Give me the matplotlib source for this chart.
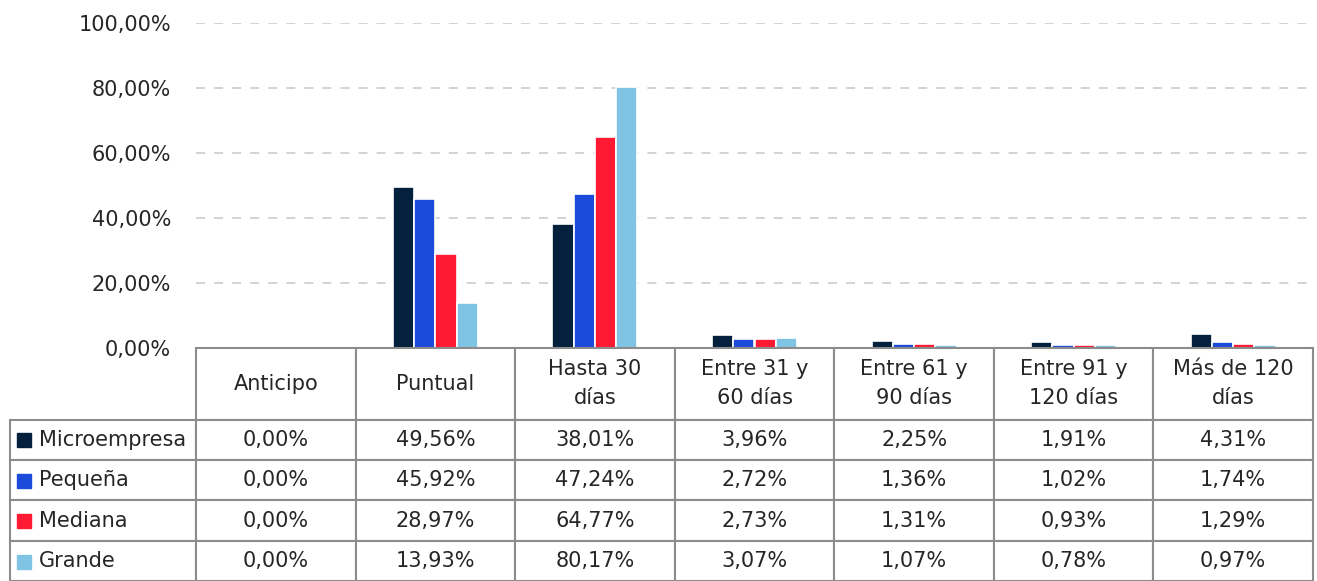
import numpy as np
import matplotlib
matplotlib.use("Agg")
import matplotlib.pyplot as plt
from matplotlib.ticker import FuncFormatter

plt.rcParams['font.family'] = ['DejaVu Sans']

categories = ['Anticipo', 'Puntual', 'Hasta 30\ndías', 'Entre 31 y\n60 días',
              'Entre 61 y\n90 días', 'Entre 91 y\n120 días', 'Más de 120\ndías']
series_names = ['Microempresa', 'Pequeña', 'Mediana', 'Grande']
microempresa = [0.00, 49.56, 38.01, 3.96, 2.25, 1.91, 4.31]
pequena = [0.00, 45.92, 47.24, 2.72, 1.36, 1.02, 1.74]
mediana = [0.00, 28.97, 64.77, 2.73, 1.31, 0.93, 1.29]
grande = [0.00, 13.93, 80.17, 3.07, 1.07, 0.78, 0.97]
colors = ['#03203d', '#1c4bdb', '#ff1a33', '#80c4e3']

series = [microempresa, pequena, mediana, grande]
text_color = '#262626'
line_color = '#8c8c8c'

W, H = 1317, 581
fig = plt.figure(figsize=(W / 100, H / 100), dpi=100)
ax_left, ax_right, ax_top, ax_bottom = 196, 1313, 23, 348
ax = fig.add_axes([ax_left / W, 1 - ax_bottom / H,
                   (ax_right - ax_left) / W, (ax_bottom - ax_top) / H])

x = np.arange(len(categories))
bar_w = 0.133
for i, (vals, c) in enumerate(zip(series, colors)):
    vals = np.array(vals) / 100
    bars = ax.bar(x + (i - 1.5) * bar_w, vals, width=bar_w,
                  color=c, edgecolor='white', linewidth=1.2, zorder=3)
    for b, v in zip(bars, vals):
        if v == 0:
            b.set_visible(False)

ax.set_xlim(-0.5, len(categories) - 0.5)
ax.set_ylim(0, 1.0)
ax.set_yticks(np.arange(0, 1.01, 0.2))
ax.yaxis.set_major_formatter(FuncFormatter(lambda v, p: f"{v * 100:.2f}%".replace('.', ',')))
ax.tick_params(axis='y', length=0, pad=18, labelsize=15, labelcolor=text_color)
ax.set_xticks([])
ax.grid(axis='y', color='#d0d0d0', linestyle=(0, (5, 5)), linewidth=1.3, zorder=0)
ax.yaxis.get_gridlines()[0].set_visible(False)
for s in ax.spines.values():
    s.set_visible(False)

# data table under the bars
px_w = ax_right - ax_left
px_h = ax_bottom - ax_top
label_w = (ax_left - 10) / px_w
cell_w = 1.0 / len(categories)
cell_text = [[name] + [f"{v:.2f}%".replace('.', ',') for v in vals]
             for name, vals in zip(series_names, series)]
table = ax.table(cellText=cell_text, colLabels=[''] + categories,
                 colWidths=[label_w] + [cell_w] * len(categories),
                 cellLoc='center',
                 bbox=[-label_w, -(H - ax_bottom) / px_h, 1 + label_w, (H - ax_bottom) / px_h])
table.auto_set_font_size(False)
table.set_zorder(5)
for (r, c), cell in table.get_celld().items():
    cell.set_edgecolor(line_color)
    cell.set_linewidth(1.5)
    cell.set_height(72 if r == 0 else 40.5)
    cell.get_text().set_fontsize(15)
    cell.get_text().set_color(text_color)
    if r == 0:
        cell.get_text().set_linespacing(1.55)
    if r == 0 and c == 0:
        cell.visible_edges = ''
    if c == 0 and r > 0:
        cell.get_text().set_horizontalalignment('left')
        cell._loc = 'left'
        cell.PAD = 0.155

# colored legend keys in the row label cells
for i, c in enumerate(colors):
    yc = -(72 + 40.5 * i + 20) / px_h
    ax.plot([(24 - ax_left) / px_w], [yc], marker='s', markersize=10.5, color=c,
            transform=ax.transAxes, clip_on=False, linestyle='none', zorder=6)

fig.savefig('out.png', dpi=100)
